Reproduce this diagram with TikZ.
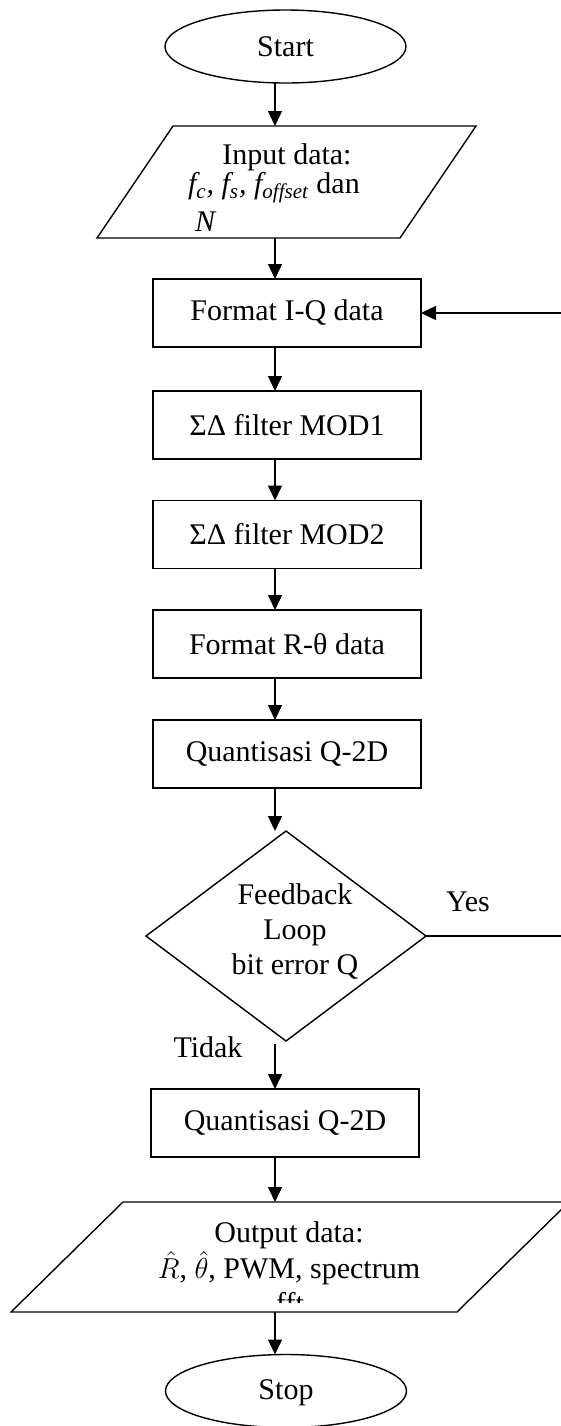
\documentclass[tikz,border=0pt]{standalone}
\usepackage{fontspec}
\setmainfont{Liberation Serif}
\usetikzlibrary{shapes.geometric,arrows.meta}
\tikzset{
  base/.style={font=\fontsize{15}{17.5}\selectfont},
  procbox/.style={base,draw,line width=0.7pt,rectangle,minimum width=134pt,minimum height=34pt,inner sep=0pt,outer sep=0pt},
  term/.style={base,draw,line width=0.7pt,ellipse,minimum width=120.5pt,minimum height=36.5pt,inner sep=0pt,outer sep=0pt},
  frame/.style={draw=none,rectangle,inner sep=0pt,outer sep=0pt},
  decide/.style={draw,line width=0.7pt,diamond,minimum width=140pt,minimum height=105pt,inner sep=0pt,outer sep=0pt},
  txt/.style={base,inner sep=0pt,outer sep=0pt},
  flow/.style={line width=0.7pt,-{Triangle[length=7.5pt,width=7pt]}},
  plain/.style={line width=0.7pt}
}
\begin{document}
\begin{tikzpicture}[x=0.5pt,y=-0.5pt]
\useasboundingbox (0,0) rectangle (561,1426);
\coordinate (col) at (275,0);
\coordinate (fbk) at (566,0);

% terminals
\node[term] (start) at (285.5,46.5) {Start};
\node[term] (stop) at (286,1391) {};
\node[txt] (stoplbl) at (286,1393) {Stop};

% input parallelogram
\node[frame,minimum width=189.5pt,minimum height=56pt] (inp) at (286.5,182) {};
\draw[plain] ([xshift=38pt]inp.north west) -- (inp.north east)
  -- ([xshift=-38pt]inp.south east) -- (inp.south west) -- cycle;
\node[txt] (inl1) at (287,157) {Input data:};
\begin{scope}
  \clip (90,126) rectangle (480,230);
  \node[txt,anchor=west] (inl2) at (188,188) {\textit{f\textsubscript{c}, f\textsubscript{s}, f\textsubscript{offset}} dan};
  \node[txt,anchor=west] (inl3) at (195,222) {\textit{N}};
\end{scope}

% processing steps
\node[procbox] (fmt) at (287,313) {Format I-Q data};
\node[procbox] (m1) at (287,425) {ΣΔ filter MOD1};
\node[procbox] (m2) at (287,534.5) {ΣΔ filter MOD2};
\node[procbox] (rt) at (287,644) {Format R-θ data};
\node[procbox] (q1) at (287,754) {Quantisasi Q-2D};

% decision
\node[decide] (dec) at (286,936) {};
\node[txt,align=center] (declbl) at (295,932) {Feedback\\Loop\\bit error Q};
\node[txt] (yes) at (468,902) {Yes};
\node[txt] (no) at (208,1047) {Tidak};

\node[procbox] (q2) at (285,1123) {Quantisasi Q-2D};

% output parallelogram
\node[frame,minimum width=279pt,minimum height=55pt] (out) at (290,1257) {};
\draw[plain] ([xshift=56pt]out.north west) -- (out.north east)
  -- ([xshift=-56pt]out.south east) -- (out.south west) -- cycle;
\node[txt] (outl1) at (289,1235) {Output data:};
\node[txt] (outl2) at (289,1268) {$\hat{R}$, $\hat{\theta}$, PWM, spectrum};
\begin{scope}
  \clip (0,1202) rectangle (561,1302);
  \node[txt] (outl3) at (290,1303) {fft};
\end{scope}

% connectors
\draw[flow] (start.south -| col) -- (inp.north -| col);
\draw[flow] (inp.south -| col) -- (fmt.north -| col);
\draw[flow] (fmt.south -| col) -- (m1.north -| col);
\draw[flow] (m1.south -| col) -- (m2.north -| col);
\draw[flow] (m2.south -| col) -- (rt.north -| col);
\draw[flow] (rt.south -| col) -- (q1.north -| col);
\draw[flow] (q1.south -| col) -- (dec.north -| col);
\draw[flow] ([yshift=-1.5pt]dec.south -| col) -- (q2.north -| col);
\draw[flow] (q2.south -| col) -- (out.north -| col);
\draw[flow] (out.south -| col) -- (stop.north -| col);
\draw[flow] (dec.east) -- (dec.east -| fbk) |- (fmt.east);
\end{tikzpicture}
\end{document}
